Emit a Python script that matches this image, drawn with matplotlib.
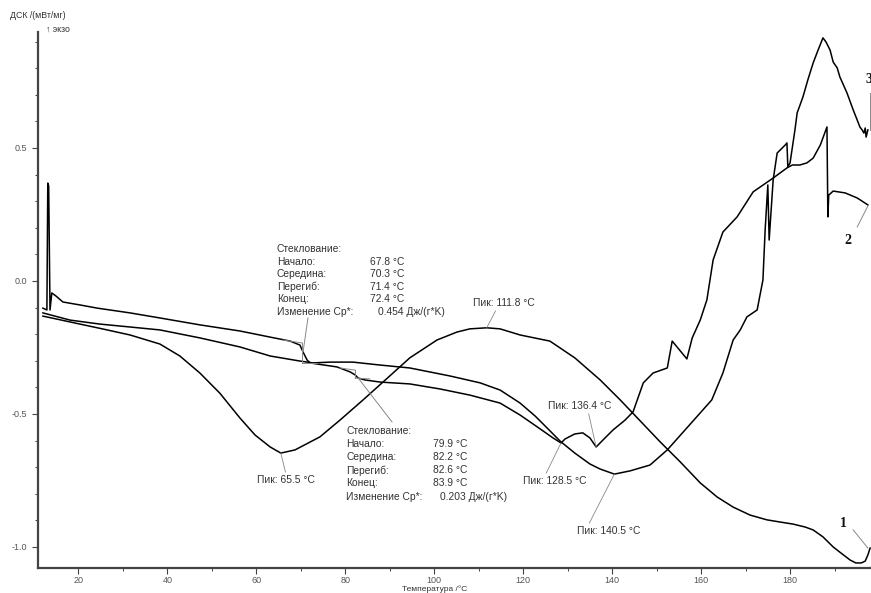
import numpy as np
import matplotlib.pyplot as plt
from matplotlib.ticker import MultipleLocator, FormatStrFormatter

plt.rcParams['font.family'] = ['Liberation Sans', 'DejaVu Sans']
plt.rcParams['axes.unicode_minus'] = False

# Кривая 1
t1 = [12.0, 18.1, 24.8, 31.6, 38.3, 42.8, 47.3, 51.8, 56.3, 59.7, 63.1, 65.5,
      68.7, 74.3, 78.8, 84.0, 90.0, 94.5, 100.6, 105.1, 108.0, 111.8, 114.8,
      119.3, 126.0, 131.6, 137.3, 141.8, 146.3, 150.8, 155.3, 159.8, 163.6,
      167.2, 171.0, 174.8, 177.7, 180.7, 183.4, 185.2, 187.4, 189.7, 191.7,
      193.5, 194.8, 196.0, 196.9, 197.5, 198.0]
dsc1 = [-0.132, -0.154, -0.178, -0.203, -0.237, -0.282, -0.346, -0.422, -0.515,
        -0.579, -0.624, -0.647, -0.635, -0.586, -0.523, -0.447, -0.357, -0.289,
        -0.222, -0.192, -0.180, -0.176, -0.180, -0.203, -0.226, -0.289, -0.372,
        -0.447, -0.526, -0.605, -0.680, -0.759, -0.812, -0.850, -0.880, -0.898,
        -0.906, -0.914, -0.925, -0.936, -0.962, -1.000, -1.026, -1.049, -1.060,
        -1.060, -1.053, -1.030, -1.004]

# Кривая 2
t2 = [12.0, 12.9, 13.1, 13.3, 13.6, 14.0, 14.9, 16.5, 20.3, 24.2, 31.6, 38.3,
      47.3, 56.3, 63.1, 67.6, 69.8, 70.5, 71.4, 72.1, 73.6, 78.1, 81.1, 82.2,
      82.9, 84.4, 87.8, 94.5, 101.3, 108.0, 114.8, 119.3, 123.8, 126.7, 128.5,
      129.4, 131.6, 133.4, 135.0, 136.4, 138.4, 140.2, 142.9, 144.7, 147.0,
      149.2, 152.4, 153.5, 156.8, 158.0, 159.8, 161.3, 162.7, 164.9, 168.1,
      171.7, 176.2, 179.3, 180.5, 182.2, 183.8, 185.2, 186.8, 188.3, 188.5,
      188.7, 189.7, 192.4, 195.1, 197.5]
dsc2 = [-0.102, -0.109, 0.368, 0.357, -0.109, -0.045, -0.056, -0.079, -0.090,
        -0.102, -0.120, -0.139, -0.165, -0.188, -0.211, -0.226, -0.241, -0.267,
        -0.297, -0.308, -0.312, -0.323, -0.342, -0.353, -0.365, -0.372, -0.380,
        -0.387, -0.406, -0.429, -0.459, -0.504, -0.556, -0.590, -0.609, -0.594,
        -0.575, -0.571, -0.590, -0.624, -0.590, -0.560, -0.523, -0.492, -0.383,
        -0.346, -0.327, -0.226, -0.293, -0.214, -0.147, -0.071, 0.079, 0.184,
        0.241, 0.335, 0.387, 0.425, 0.436, 0.436, 0.444, 0.462, 0.511, 0.579,
        0.241, 0.323, 0.338, 0.331, 0.312, 0.286]

# Кривая 3
t3 = [12.0, 18.1, 24.8, 31.6, 38.3, 47.3, 56.3, 63.1, 69.8, 72.7, 76.6, 81.7,
      87.8, 94.5, 103.5, 110.3, 114.8, 119.3, 122.7, 125.4, 128.3, 131.6,
      135.0, 137.3, 140.5, 144.0, 148.5, 152.4, 159.8, 162.4, 164.9, 167.2,
      168.8, 170.3, 172.6, 173.9, 174.4, 175.0, 175.3, 176.2, 177.1, 178.9,
      179.3, 179.5, 180.0, 181.1, 181.6, 182.9, 184.0, 185.2, 186.3, 187.4,
      188.1, 189.0, 189.7, 190.6, 191.2, 192.8, 194.2, 195.1, 195.7, 196.2,
      196.6, 196.9, 197.1, 197.5]
dsc3 = [-0.120, -0.147, -0.162, -0.173, -0.184, -0.214, -0.248, -0.282, -0.301,
        -0.308, -0.305, -0.305, -0.316, -0.327, -0.357, -0.383, -0.410, -0.459,
        -0.508, -0.553, -0.602, -0.647, -0.688, -0.707, -0.726, -0.714, -0.692,
        -0.635, -0.496, -0.447, -0.346, -0.222, -0.184, -0.135, -0.109, 0.004,
        0.192, 0.361, 0.154, 0.380, 0.481, 0.511, 0.519, 0.429, 0.444, 0.568,
        0.632, 0.692, 0.756, 0.820, 0.868, 0.914, 0.898, 0.868, 0.823, 0.801,
        0.767, 0.707, 0.643, 0.605, 0.579, 0.568, 0.556, 0.575, 0.541, 0.568]

# Стеклование: начало, середина, перегиб, конец, изменение Cp
glass1 = [67.8, 70.3, 71.4, 72.4, 0.454]
glass2 = [79.9, 82.2, 82.6, 83.9, 0.203]

fig = plt.figure(figsize=(8.71, 5.93), dpi=100)
ax = fig.add_axes([38 / 871, 25 / 593, 833 / 871, 536 / 593])

for t, d in [(t1, dsc1), (t2, dsc2), (t3, dsc3)]:
    ax.plot(t, d, color='black', lw=1.1)

ax.set_xlim(10.9, 198.2)
ax.set_ylim(-1.079, 0.936)
ax.spines['top'].set_visible(False)
ax.spines['right'].set_visible(False)
for s in ['left', 'bottom']:
    ax.spines[s].set_color('#444')
    ax.spines[s].set_linewidth(1.6)

ax.set_xticks(np.arange(20, 181, 20))
ax.xaxis.set_minor_locator(MultipleLocator(10))
ax.set_yticks([-1.0, -0.5, 0.0, 0.5])
ax.yaxis.set_minor_locator(MultipleLocator(0.1))
ax.yaxis.set_major_formatter(FormatStrFormatter('%.1f'))
ax.tick_params(which='major', direction='out', length=4, width=0.8,
               colors='#444', labelsize=6.5, labelcolor='#555')
ax.tick_params(axis='x', which='major', pad=1.5)
ax.tick_params(which='minor', direction='out', length=2, width=0.7, colors='#444')

fig.text(10 / 871, 1 - 15 / 593, 'ДСК /(мВт/мг)', fontsize=6.3, color='#333', va='center')
fig.text(46 / 871, 1 - 29 / 593, '↑ экзо', fontsize=6.3, color='#333', va='center')
fig.text(435 / 871, 1 - 589.5 / 593, 'Температура /°C', fontsize=6,
         color='#333', ha='center', va='center')

txt = dict(fontsize=7.4, color='#333', va='center')
lead = dict(arrowstyle='-', color='#888', lw=0.6, shrinkA=0, shrinkB=0)


def peak(t, d, temp, xytext, ha, rel):
    y = np.interp(temp, t, d)
    ax.annotate(f'Пик: {temp} °C', xy=(temp, y), xytext=xytext, ha=ha,
                arrowprops=dict(lead, relpos=rel), **txt)


peak(t1, dsc1, 65.5, (66.7, -0.748), 'center', (0.5, 1))
peak(t1, dsc1, 111.8, (108.7, -0.083), 'left', (0.39, 0))
peak(t2, dsc2, 136.4, (125.6, -0.470), 'left', (0.63, 0))
peak(t2, dsc2, 128.5, (120.0, -0.752), 'left', (0.34, 1))
peak(t3, dsc3, 140.5, (132.1, -0.940), 'left', (0.17, 1))

names = ['Начало:', 'Середина:', 'Перегиб:', 'Конец:']


def glass_block(vals, x0, x1, x2, y0, dy):
    ax.text(x0, y0, 'Стеклование:', **txt)
    for i, (n, v) in enumerate(zip(names, vals[:4])):
        ax.text(x0, y0 - dy * (i + 1), n, **txt)
        ax.text(x1, y0 - dy * (i + 1), f'{v} °C', **txt)
    ax.text(x0, y0 - dy * 5, 'Изменение Cp*:', **txt)
    ax.text(x2, y0 - dy * 5, f'{vals[4]} Дж/(г*K)', **txt)


glass_block(glass1, 64.6, 85.6, 87.3, 0.120, 0.0474)
glass_block(glass2, 80.2, 99.7, 101.3, -0.564, 0.0493)

# касательные для стеклования
g = dict(color='#888', lw=0.7)
ax.plot([66.0, glass1[1]], [-0.222, -0.233], **g)
ax.plot([glass1[1], glass1[1]], [-0.233, -0.308], **g)
ax.plot([glass1[1], 73.6], [-0.308, -0.308], **g)
ax.plot([71.6, 70.5], [-0.139, -0.267], **g)
ax.plot([78.8, glass2[1]], [-0.327, -0.335], **g)
ax.plot([glass2[1], glass2[1]], [-0.335, -0.365], **g)
ax.plot([glass2[1], 85.5], [-0.365, -0.368], **g)
ax.plot([82.9, 90.5], [-0.365, -0.530], **g)

# номера кривых
num = dict(fontsize=10, fontweight='bold', family='Liberation Serif',
           ha='center', va='center', color='#111')
ax.text(191.9, -0.910, '1', **num)
ax.plot([194.2, 197.5], [-0.936, -1.004], **g)
ax.text(193.0, 0.154, '2', **num)
ax.plot([195.1, 197.5], [0.203, 0.282], **g)
ax.text(197.8, 0.756, '3', clip_on=False, **num)
ax.plot([198.0, 198.0], [0.707, 0.568], clip_on=False, **g)

fig.savefig('out.png', dpi=100)
